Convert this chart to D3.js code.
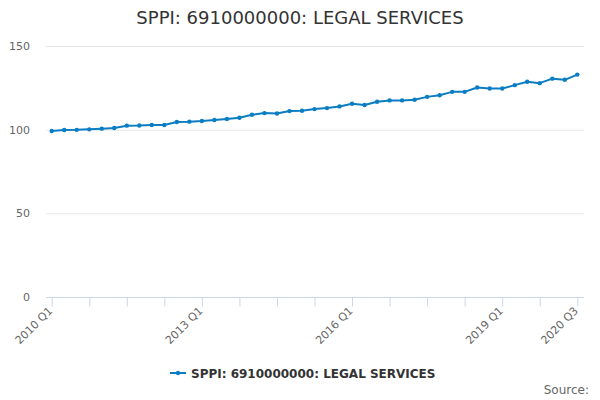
<!DOCTYPE html>
<html>
<head>
<meta charset="utf-8">
<script src="https://cdn.jsdelivr.net/npm/d3@7"></script>
<style>
  body { margin: 0; background: #fff; }
  svg { font-family: "DejaVu Sans", sans-serif; }
</style>
</head>
<body>
<svg></svg>
<script>
// chart data
const titleText = "SPPI: 6910000000: LEGAL SERVICES";
const seriesName = "SPPI: 6910000000: LEGAL SERVICES";
const years = [2010, 2011, 2012, 2013, 2014, 2015, 2016, 2017, 2018, 2019, 2020];
const values = [
    99.2, 99.8, 99.9, 100.2, 100.6, 101.0, 102.4, 102.5, 102.8, 102.8,
    104.6, 104.8, 105.2, 105.8, 106.4, 107.1, 108.9, 109.9, 109.7, 111.1,
    111.3, 112.3, 112.9, 113.9, 115.5, 114.7, 116.7, 117.5, 117.5, 117.9,
    119.6, 120.6, 122.6, 122.6, 125.2, 124.6, 124.6, 126.6, 128.6, 127.8,
    130.5, 129.8, 132.9
];
const yTicks = [0, 50, 100, 150];
const labelledQuarters = ["2010 Q1", "2013 Q1", "2016 Q1", "2019 Q1", "2020 Q3"];

// quarter labels built from the year list
const quarters = [];
years.forEach(function(y) {
    [1, 2, 3, 4].forEach(function(q) { quarters.push(y + " Q" + q); });
});
const data = values.map(function(v, i) { return { q: quarters[i], v: v }; });

function lineChart(data) {
    const width = 600;
    const height = 400;
    const plotLeft = 46;
    const plotRight = 584;
    const plotTop = 46;
    const plotBottom = 297;

    let svg = d3.select("svg")
        .attr("width", width)
        .attr("height", height);

    let xScale = d3.scalePoint()
        .domain(data.map(function(d) { return d.q; }))
        .range([51.7, 577.3]);

    let yScale = d3.scaleLinear()
        .domain([0, 150])
        .range([plotBottom, plotTop]);

    // grid lines
    svg.append("g")
        .selectAll("line")
        .data(yTicks.filter(function(t) { return t > 0; }))
        .join("line")
        .attr("x1", plotLeft)
        .attr("x2", plotRight)
        .attr("y1", function(d) { return yScale(d) + 0.5; })
        .attr("y2", function(d) { return yScale(d) + 0.5; })
        .attr("stroke", "#e6e6e6")
        .attr("stroke-width", 1);

    // y axis labels
    svg.append("g")
        .selectAll("text")
        .data(yTicks)
        .join("text")
        .text(function(d) { return d; })
        .attr("x", 30)
        .attr("y", function(d) { return yScale(d) + 4; })
        .attr("text-anchor", "end")
        .attr("font-size", "11px")
        .attr("fill", "#666666");

    // x axis: a tick every third quarter
    let tickValues = data.map(function(d) { return d.q; }).filter(function(q, i) { return i % 3 === 0; });
    let xAxis = svg.append("g")
        .attr("transform", `translate(0, ${plotBottom + 0.5})`)
        .call(d3.axisBottom(xScale).tickValues(tickValues).tickSizeOuter(0).tickSize(9)
            .tickFormat(function(q) { return labelledQuarters.indexOf(q) >= 0 ? q : ""; }));
    xAxis.select(".domain")
        .attr("d", `M${plotLeft},0H${plotRight}`)
        .attr("stroke", "#ccd6eb");
    xAxis.selectAll(".tick line").attr("stroke", "#ccd6eb");
    xAxis.selectAll(".tick text")
        .attr("font-family", "DejaVu Sans, sans-serif")
        .attr("font-size", "11px")
        .attr("fill", "#666666")
        .attr("text-anchor", "end")
        .attr("x", 0)
        .attr("y", 0)
        .attr("dy", null)
        .attr("transform", "translate(1, 14) rotate(-45)");

    // line
    let line = d3.line()
        .x(function(d) { return xScale(d.q); })
        .y(function(d) { return yScale(d.v); });

    svg.append("path")
        .datum(data)
        .attr("fill", "none")
        .attr("stroke", "#0b7dc3")
        .attr("stroke-width", 2)
        .attr("stroke-linejoin", "round")
        .attr("d", line);

    svg.append("g")
        .selectAll("circle")
        .data(data)
        .join("circle")
        .attr("cx", function(d) { return xScale(d.q); })
        .attr("cy", function(d) { return yScale(d.v); })
        .attr("r", 2.2)
        .attr("fill", "#0b7dc3");

    // title
    svg.append("text")
        .text(titleText)
        .attr("x", width / 2)
        .attr("y", 24)
        .attr("font-size", "18px")
        .attr("fill", "#333333")
        .style("text-anchor", "middle");

    // legend
    let legend = svg.append("g").attr("transform", "translate(170, 373)");
    legend.append("line")
        .attr("x1", 0).attr("x2", 16)
        .attr("y1", 0).attr("y2", 0)
        .attr("stroke", "#0b7dc3")
        .attr("stroke-width", 2);
    legend.append("circle")
        .attr("cx", 8).attr("cy", 0).attr("r", 2.2)
        .attr("fill", "#0b7dc3");
    legend.append("text")
        .text(seriesName)
        .attr("x", 21)
        .attr("y", 4.5)
        .attr("font-size", "12px")
        .attr("font-weight", "bold")
        .attr("fill", "#333333");

    // credits
    svg.append("text")
        .text("Source:")
        .attr("x", 589)
        .attr("y", 394)
        .attr("font-size", "12px")
        .attr("fill", "#666666")
        .style("text-anchor", "end");
}

lineChart(data);
</script>
</body>
</html>
